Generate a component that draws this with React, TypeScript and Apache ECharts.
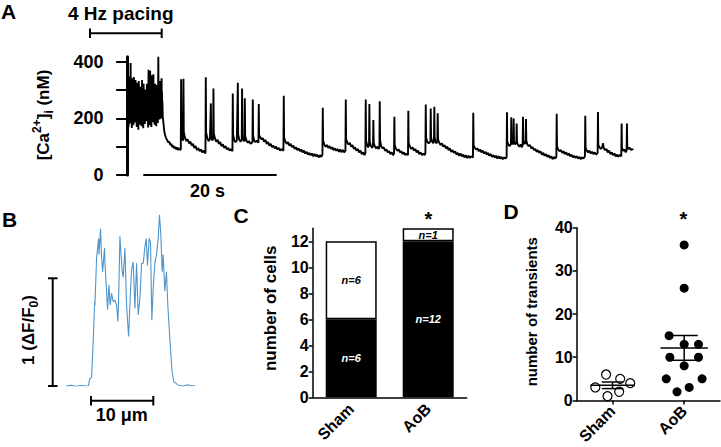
import React, { useEffect, useRef } from "react";
import * as echarts from "echarts";

// ---------- DATA ----------
// Panel A, 4 Hz pacing beats: [peak time (s), peak, then four relaxation readings, diastolic trough] (nM)
const pacingBeats: number[][] = [
  [0.03,362,228,300,250,285,170],[0.28,348,240,312,236,270,182],[0.52,396,250,330,262,300,166],
  [0.77,342,220,296,240,275,176],[1.01,346,235,290,226,262,186],[1.26,336,215,300,232,270,170],
  [1.5,326,225,286,214,255,160],[1.75,332,230,296,244,268,178],[1.99,312,210,282,222,250,172],
  [2.24,336,228,304,236,276,165],[2.48,322,214,292,230,262,180],[2.73,302,232,280,222,250,190],
  [2.97,322,218,296,236,268,168],[3.22,372,240,320,256,290,176],[3.46,368,236,326,250,300,170],
  [3.71,352,226,310,246,280,186],[3.95,356,238,316,250,286,178],[4.2,322,220,296,232,266,172],
  [4.44,318,230,290,228,260,184],[4.69,418,250,330,262,300,196],[4.93,332,236,300,244,270,200],
  [5.18,342,240,296,230,262,205],
];
// Panel A, after pacing: [time (s), [Ca2+]i (nM)]
const caTrace: [number, number][] = [
  [5.45,186],[5.6,152],[5.75,138],[5.9,128],[6.05,122],[6.2,114],[6.35,118],[6.5,106],[6.65,110],[6.8,98],[6.95,104],[7.1,94],[7.25,100],[7.4,90],[7.55,97],[7.7,88],[7.85,95],[8.07,88],
  [8.12,338],[8.17,150],[8.3,128],[8.42,122],[8.47,340],[8.52,152],[8.7,132],[8.9,120],[9.1,126],[9.3,112],[9.5,118],[9.7,104],[9.9,110],[10.1,96],[10.3,102],[10.5,88],[10.7,95],[10.9,84],[11.1,90],[11.3,80],[11.5,86],[11.78,76],
  [11.83,345],[11.88,150],[12.05,132],[12.25,120],[12.45,126],[12.59,253],[12.64,140],[12.8,122],[12.93,128],[12.98,306],[13.03,148],[13.2,130],[13.4,118],[13.6,124],[13.8,110],[14.0,116],[14.2,102],[14.4,108],[14.6,96],[14.8,102],[15.0,90],[15.2,96],[15.4,86],[15.6,92],[15.84,84],
  [15.89,288],[15.94,142],[16.1,124],[16.3,116],[16.5,122],[16.65,326],[16.7,144],[16.85,126],[17.05,118],[17.24,124],[17.29,306],[17.34,142],[17.5,124],[17.65,118],[17.7,271],[17.75,138],[17.95,122],[18.15,114],[18.35,120],[18.55,110],[18.85,116],[18.9,267],[18.95,140],[19.1,122],[19.3,116],[19.5,122],[19.75,114],[19.8,251],[19.85,142],[20.0,134],[20.2,126],[20.4,130],[20.6,118],[20.8,124],[21.0,110],[21.2,116],[21.4,104],[21.6,110],[21.8,98],[22.0,104],[22.2,94],[22.4,100],[22.6,90],[22.8,96],[23.0,86],[23.2,92],[23.51,86],
  [23.56,280],[23.61,132],[23.8,118],[24.0,110],[24.2,116],[24.4,104],[24.6,110],[24.8,98],[25.0,104],[25.2,92],[25.4,98],[25.6,88],[25.8,94],[26.0,84],[26.2,90],[26.4,80],[26.6,86],[26.8,76],[27.0,82],[27.2,72],[27.4,78],[27.6,70],[27.8,76],[28.0,66],[28.2,74],[28.4,66],[28.6,72],[28.8,62],[29.0,70],[29.2,64],[29.38,72],
  [29.43,238],[29.48,122],[29.65,108],[29.85,100],[30.05,106],[30.25,96],[30.45,102],[30.65,92],[30.85,98],[31.05,88],[31.25,94],[31.45,86],[31.65,92],[31.85,82],[32.05,90],[32.25,80],[32.45,88],[32.65,80],[32.84,86],
  [32.89,267],[32.94,128],[33.1,116],[33.3,108],[33.5,114],[33.7,100],[33.9,106],[34.1,92],[34.3,98],[34.5,86],[34.7,92],[34.9,80],[35.1,86],[35.3,74],[35.5,80],[35.7,70],[35.84,78],
  [35.89,267],[35.94,122],[36.1,106],[36.25,98],[36.39,104],[36.44,251],[36.49,118],[36.65,104],[36.85,96],[36.99,102],[37.04,194],[37.09,114],[37.25,102],[37.45,94],[37.65,100],[37.85,92],[37.95,98],[38.0,261],[38.05,122],[38.2,104],[38.4,94],[38.6,98],[38.8,86],[39.0,90],[39.2,80],[39.4,84],[39.6,74],[39.8,80],[40.0,70],[40.15,76],
  [40.2,206],[40.25,106],[40.45,92],[40.65,86],[40.85,90],[41.05,80],[41.25,84],[41.45,74],[41.65,80],[41.85,70],[42.05,76],[42.25,70],
  [42.3,227],[42.35,114],[42.55,100],[42.75,92],[42.95,98],[43.15,86],[43.35,92],[43.55,80],[43.75,86],[43.95,74],[44.15,80],[44.35,70],[44.55,76],[44.75,70],[44.87,78],
  [44.92,249],[44.97,132],[45.15,118],[45.35,112],[45.62,118],[45.67,235],[45.72,132],[45.9,118],[46.05,112],[46.16,120],[46.21,241],[46.26,132],[46.42,116],[46.55,112],[46.67,120],[46.72,218],[46.77,126],[46.95,114],[47.15,106],[47.35,112],[47.55,100],[47.75,106],[47.95,94],[48.15,100],[48.35,88],[48.55,94],[48.75,82],[48.95,88],[49.15,78],[49.35,84],[49.55,72],[49.75,78],[49.95,68],[50.15,76],[50.35,66],[50.55,72],[50.75,62],[50.95,70],[51.15,60],[51.35,68],[51.55,60],[51.75,66],[52.02,62],
  [52.07,220],[52.12,106],[52.3,96],[52.5,90],[52.7,94],[52.9,84],[53.1,90],[53.3,80],[53.5,86],[53.7,76],[53.9,82],[54.1,72],[54.3,78],[54.5,68],[54.7,74],[54.9,64],[55.1,70],[55.3,62],[55.5,68],[55.7,58],[55.9,66],[56.1,58],[56.3,64],[56.5,56],[56.7,62],[56.9,58],[57.09,64],
  [57.14,222],[57.19,116],[57.35,108],[57.5,102],[57.74,110],[57.79,204],[57.84,118],[58.0,108],[58.1,114],[58.15,200],[58.2,118],[58.35,108],[58.55,114],[58.6,182],[58.65,116],[58.8,106],[59.0,100],[59.2,108],[59.35,98],[59.5,106],[59.55,206],[59.6,122],[59.75,110],[59.95,114],[60.0,198],[60.05,122],[60.2,108],[60.4,102],[60.6,106],[60.8,94],[61.0,98],[61.2,88],[61.4,92],[61.6,82],[61.8,88],[62.0,78],[62.2,84],[62.4,72],[62.6,78],[62.8,68],[63.0,74],[63.2,64],[63.4,70],[63.6,60],[63.8,66],[64.0,56],[64.2,64],[64.4,58],[64.57,64],
  [64.62,216],[64.67,100],[64.85,90],[65.05,84],[65.25,88],[65.45,78],[65.65,84],[65.85,74],[66.05,80],[66.25,70],[66.45,76],[66.65,66],[66.85,72],[67.05,62],[67.25,68],[67.45,60],[67.65,66],[67.85,58],[68.05,64],[68.25,56],[68.45,62],[68.65,58],[68.87,66],
  [68.92,209],[68.97,96],[69.15,86],[69.35,80],[69.55,86],[69.75,76],[69.95,82],[70.15,74],[70.35,80],[70.55,72],[70.78,78],
  [70.83,223],[70.88,106],[71.05,98],[71.25,92],[71.45,98],[71.6,112],[71.7,94],[71.9,88],[72.1,92],[72.3,80],[72.5,86],[72.7,74],[72.9,80],[73.1,70],[73.3,76],[73.5,66],[73.7,72],[73.9,64],[74.1,72],[74.34,66],
  [74.39,182],[74.44,96],[74.6,86],[74.8,90],[75.0,80],[75.14,86],[75.19,182],[75.24,100],[75.4,92],[75.6,96],[75.8,88],[76.0,92],[76.1,88],
];
const caStart: [number, number] = [0.0, 180];
const caTicks = [0, 100, 200, 300, 400];
const caLabels = [0, 200, 400];

// Panel B: line-scan profile, [position (um), dF/F0]
const lineProfile: [number, number][] = [
  [0,0],[0.8,0.006],[1.6,-0.003],[2.4,0.005],[3.2,0],[3.58,0.002],[3.85,0.07],[4.12,0.08],[4.39,0.44],[4.6,0.78],[4.65,0.75],[4.92,1.19],[5.24,1.37],[5.3,1.22],[5.56,1.46],[5.67,1.25],[5.88,1.06],[6.2,1.28],[6.26,1.15],[6.52,0.88],[6.68,0.71],[6.9,0.94],[7.1,0.75],[7.33,0.86],[7.6,0.78],[7.86,0.8],[8.13,0.75],[8.35,0.6],[8.5,0.91],[8.67,1.39],[8.83,1.24],[9.04,1.06],[9.2,1.01],[9.47,1.28],[9.74,0.75],[10.06,0.46],[10.27,0.75],[10.54,1.08],[10.8,1.15],[11.08,0.72],[11.35,1.14],[11.61,0.66],[11.88,0.81],[12.15,1.14],[12.42,1.14],[12.68,1.29],[12.9,1.37],[13.1,1.12],[13.37,1.37],[13.58,1.34],[13.8,0.61],[14.02,0.91],[14.29,1.14],[14.55,1.22],[14.82,1.37],[15.03,1.59],[15.25,1.4],[15.46,1.06],[15.62,1.22],[15.89,0.88],[16.15,1.06],[16.37,0.75],[16.69,0.44],[17.06,0.13],[17.34,0.04],[18.0,0.01],[18.8,0.0],[19.6,0.012],[20.2,0.0],[20.7,0.004],
];

// Panel C: number of cells
const groups = ["Sham", "AoB"];
const cellsWithTransients = [6, 12];
const cellsWithoutTransients = [6, 1];
const cellTicks = [0, 2, 4, 6, 8, 10, 12];

// Panel D: number of transients per cell
const shamTransients = [6, 5, 4, 3, 2, 1];
const shamOffsets = [-0.09, 0.107, 0.247, -0.24, 0.093, -0.07];
const aobTransients = [36, 26, 15, 13, 13, 10, 10, 8, 5, 5, 3, 2];
const aobOffsets = [0, 0, -0.21, 0, 0.2, -0.2, 0.2, 0, -0.25, 0.25, 0.07, -0.1];

// ---------- helpers ----------
const FONT = "Liberation Sans, Arial, Helvetica, sans-serif";
const mean = (a: number[]) => a.reduce((s, v) => s + v, 0) / a.length;
const sem = (a: number[]) => {
  const m = mean(a);
  const v = a.reduce((s, x) => s + (x - m) * (x - m), 0) / (a.length - 1);
  return Math.sqrt(v) / Math.sqrt(a.length);
};

function fullTrace(): [number, number][] {
  const out: [number, number][] = [caStart];
  const dt = [0, 0.03, 0.06, 0.09, 0.12, 0.18];
  pacingBeats.forEach((b) => {
    for (let k = 0; k < 6; k++) out.push([b[0] + dt[k], b[k + 1]]);
  });
  return out.concat(caTrace);
}

const baseStyle = (text: string, size: number) => ({
  text,
  fontSize: size,
  fontWeight: "bold",
  fontFamily: FONT,
  fill: "#000",
  align: "center",
  verticalAlign: "middle",
});
const txt = (text: string, x: number, y: number, size: number, extra: any = {}) => ({
  type: "text",
  x,
  y,
  silent: true,
  ...extra,
  style: { ...baseStyle(text, size), ...(extra.style || {}) },
});
const ln = (x1: number, y1: number, x2: number, y2: number, w = 2) => ({
  type: "line",
  silent: true,
  shape: { x1, y1, x2, y2 },
  style: { stroke: "#000", lineWidth: w },
});

function buildOption() {
  const stats = [
    [1, mean(shamTransients), sem(shamTransients)],
    [2, mean(aobTransients), sem(aobTransients)],
  ];
  const meanHalf = [0.31, 0.33];
  const capHalf = [0.15, 0.19];
  const labelFont = { fontFamily: FONT, fontWeight: "bold" as const, color: "#000" };
  const catLabel = {
    show: true,
    interval: 0,
    rotate: 45,
    fontSize: 16,
    fontFamily: FONT,
    fontWeight: "bold" as const,
    color: "#000",
    hideOverlap: false,
  };

  return {
    animation: false,
    backgroundColor: "#fff",
    grid: [
      { left: 124.5, right: 88, top: 56.7, bottom: 272 },
      { left: 66, right: 525, top: 202.9, bottom: 61 },
      { left: 312.7, right: 254.3, top: 228.3, bottom: 49.7 },
      { left: 576.7, right: 1, top: 227.7, bottom: 45.3 },
    ],
    xAxis: [
      { type: "value", gridIndex: 0, min: -0.4, max: 76.1, show: false },
      { type: "value", gridIndex: 1, min: 0, max: 20.9, show: false },
      {
        type: "category",
        gridIndex: 2,
        data: groups,
        axisLine: { lineStyle: { color: "#000", width: 1.5 } },
        axisTick: { alignWithLabel: true, length: 4, lineStyle: { color: "#000", width: 1.5 } },
        axisLabel: { ...catLabel, margin: 9 },
      },
      {
        type: "value",
        gridIndex: 3,
        min: 0.5,
        max: 2.5,
        splitLine: { show: false },
        axisLine: { lineStyle: { color: "#000", width: 1.5 } },
        axisTick: { customValues: [1, 2], length: 4, lineStyle: { color: "#000", width: 1.5 } },
        axisLabel: {
          ...catLabel,
          margin: 8,
          customValues: [1, 2],
          formatter: (v: number) => groups[Math.round(v) - 1] || "",
        },
      },
    ],
    yAxis: [
      {
        type: "value",
        gridIndex: 0,
        min: 0,
        max: 418,
        splitLine: { show: false },
        axisLine: { show: true, lineStyle: { color: "#000", width: 3 } },
        axisTick: { show: true, customValues: caTicks, length: 11, lineStyle: { color: "#000", width: 2 } },
        axisLabel: { ...labelFont, fontSize: 18, margin: 21, customValues: caLabels },
      },
      { type: "value", gridIndex: 1, min: 0, max: 1.7, show: false },
      {
        type: "value",
        gridIndex: 2,
        min: 0,
        max: 13,
        splitLine: { show: false },
        axisLine: { show: true, lineStyle: { color: "#000", width: 1.5 } },
        axisTick: { show: true, customValues: cellTicks, length: 4, lineStyle: { color: "#000", width: 1.5 } },
        axisLabel: { ...labelFont, fontSize: 16, margin: 4, customValues: cellTicks },
      },
      {
        type: "value",
        gridIndex: 3,
        min: 0,
        max: 40,
        interval: 10,
        splitLine: { show: false },
        axisLine: { show: true, lineStyle: { color: "#000", width: 1.5 } },
        axisTick: { show: true, length: 4, lineStyle: { color: "#000", width: 1.5 } },
        axisLabel: { ...labelFont, fontSize: 16, margin: 4 },
      },
    ],
    series: [
      {
        type: "line",
        xAxisIndex: 0,
        yAxisIndex: 0,
        data: fullTrace(),
        showSymbol: false,
        symbol: "none",
        lineStyle: { color: "#000", width: 1.9 },
        silent: true,
      },
      {
        type: "line",
        xAxisIndex: 1,
        yAxisIndex: 1,
        data: lineProfile,
        showSymbol: false,
        symbol: "none",
        lineStyle: { color: "#4f95cc", width: 1.1 },
        silent: true,
      },
      {
        type: "bar",
        name: "with transients",
        xAxisIndex: 2,
        yAxisIndex: 2,
        stack: "cells",
        barWidth: 51,
        data: cellsWithTransients,
        itemStyle: { color: "#000", borderColor: "#000", borderWidth: 1.5 },
        label: {
          show: true,
          position: "inside",
          formatter: (p: any) => "n=" + p.value,
          color: "#fff",
          fontFamily: FONT,
          fontStyle: "italic",
          fontWeight: "bold",
          fontSize: 11,
        },
      },
      {
        type: "bar",
        name: "without transients",
        xAxisIndex: 2,
        yAxisIndex: 2,
        stack: "cells",
        barWidth: 51,
        data: cellsWithoutTransients,
        itemStyle: { color: "#fff", borderColor: "#000", borderWidth: 1.5 },
        label: {
          show: true,
          position: "inside",
          formatter: (p: any) => "n=" + p.value,
          color: "#000",
          fontFamily: FONT,
          fontStyle: "italic",
          fontWeight: "bold",
          fontSize: 11,
        },
      },
      {
        type: "scatter",
        xAxisIndex: 3,
        yAxisIndex: 3,
        data: shamTransients.map((v, i) => [1 + shamOffsets[i], v]),
        symbol: "circle",
        symbolSize: 9,
        itemStyle: { color: "#fff", borderColor: "#000", borderWidth: 1.2, opacity: 1 },
        z: 3,
      },
      {
        type: "scatter",
        xAxisIndex: 3,
        yAxisIndex: 3,
        data: aobTransients.map((v, i) => [2 + aobOffsets[i], v]),
        symbol: "circle",
        symbolSize: 9,
        itemStyle: { color: "#000", opacity: 1 },
        z: 3,
      },
      {
        type: "custom",
        xAxisIndex: 3,
        yAxisIndex: 3,
        data: stats,
        z: 5,
        silent: true,
        renderItem: (params: any, api: any) => {
          const i = params.dataIndex;
          const cx = api.value(0);
          const m = api.value(1);
          const s = api.value(2);
          const hw = meanHalf[i];
          const cw = capHalf[i];
          const L = api.coord([cx - hw, m]);
          const R = api.coord([cx + hw, m]);
          const T = api.coord([cx, m + s]);
          const B = api.coord([cx, m - s]);
          const TL = api.coord([cx - cw, m + s]);
          const TR = api.coord([cx + cw, m + s]);
          const BL = api.coord([cx - cw, m - s]);
          const BR = api.coord([cx + cw, m - s]);
          const st = { stroke: "#000", lineWidth: 1.5 };
          return {
            type: "group",
            children: [
              { type: "line", shape: { x1: L[0], y1: L[1], x2: R[0], y2: R[1] }, style: st },
              { type: "line", shape: { x1: T[0], y1: T[1], x2: B[0], y2: B[1] }, style: st },
              { type: "line", shape: { x1: TL[0], y1: TL[1], x2: TR[0], y2: TR[1] }, style: st },
              { type: "line", shape: { x1: BL[0], y1: BL[1], x2: BR[0], y2: BR[1] }, style: st },
            ],
          };
        },
      },
    ],
    graphic: [
      // panel letters
      txt("A", 8.5, 11.5, 21),
      txt("B", 9.5, 219.5, 21),
      txt("C", 241, 215.5, 21),
      txt("D", 511, 211.5, 21),
      // panel A annotations
      txt("4 Hz pacing", 68, 13, 19, { style: { align: "left" } }),
      ln(90, 33.3, 161.7, 33.3),
      ln(90, 28.5, 90, 38),
      ln(161.7, 28.5, 161.7, 38),
      ln(143.3, 175, 276.7, 175, 1.8),
      txt("20 s", 207.5, 190.5, 18),
      {
        type: "text",
        x: 43,
        y: 115,
        rotation: Math.PI / 2,
        silent: true,
        style: {
          ...baseStyle("[Ca{sup|2+}]{sub|i} (nM)", 17),
          lineHeight: 24,
          rich: {
            sup: { fontSize: 12, fontWeight: "bold", fontFamily: FONT, fill: "#000", verticalAlign: "top", lineHeight: 12 },
            sub: { fontSize: 12, fontWeight: "bold", fontFamily: FONT, fill: "#000", verticalAlign: "bottom", lineHeight: 12 },
          },
        },
      },
      // panel B scale bars
      ln(52.7, 278.3, 52.7, 386),
      ln(48, 278.3, 57.5, 278.3),
      ln(48, 386, 57.5, 386),
      ln(91, 400.7, 153.3, 400.7),
      ln(91, 396, 91, 405.5),
      ln(153.3, 396, 153.3, 405.5),
      txt("10 \u03bcm", 121.7, 415, 18),
      {
        type: "text",
        x: 28.3,
        y: 330,
        rotation: Math.PI / 2,
        silent: true,
        style: {
          ...baseStyle("1 (\u0394F/F{sub|0})", 17),
          lineHeight: 24,
          rich: {
            sub: { fontSize: 12, fontWeight: "bold", fontFamily: FONT, fill: "#000", verticalAlign: "bottom", lineHeight: 12 },
          },
        },
      },
      // panel C
      txt("number of cells", 270, 308.3, 17, { rotation: Math.PI / 2 }),
      txt("*", 428.3, 218.5, 20),
      // panel D
      txt("number of transients", 531, 311.7, 15, { rotation: Math.PI / 2 }),
      txt("*", 683.5, 219, 20),
    ],
  };
}

export default function App() {
  const ref = useRef<HTMLDivElement>(null);
  useEffect(() => {
    const chart = echarts.init(ref.current!, null, { renderer: "svg" });
    chart.setOption(buildOption() as any);
    return () => chart.dispose();
  }, []);
  return (
    <div
      ref={ref}
      style={{ position: "fixed", left: 0, top: 0, width: 721, height: 447, background: "#fff" }}
    />
  );
}
